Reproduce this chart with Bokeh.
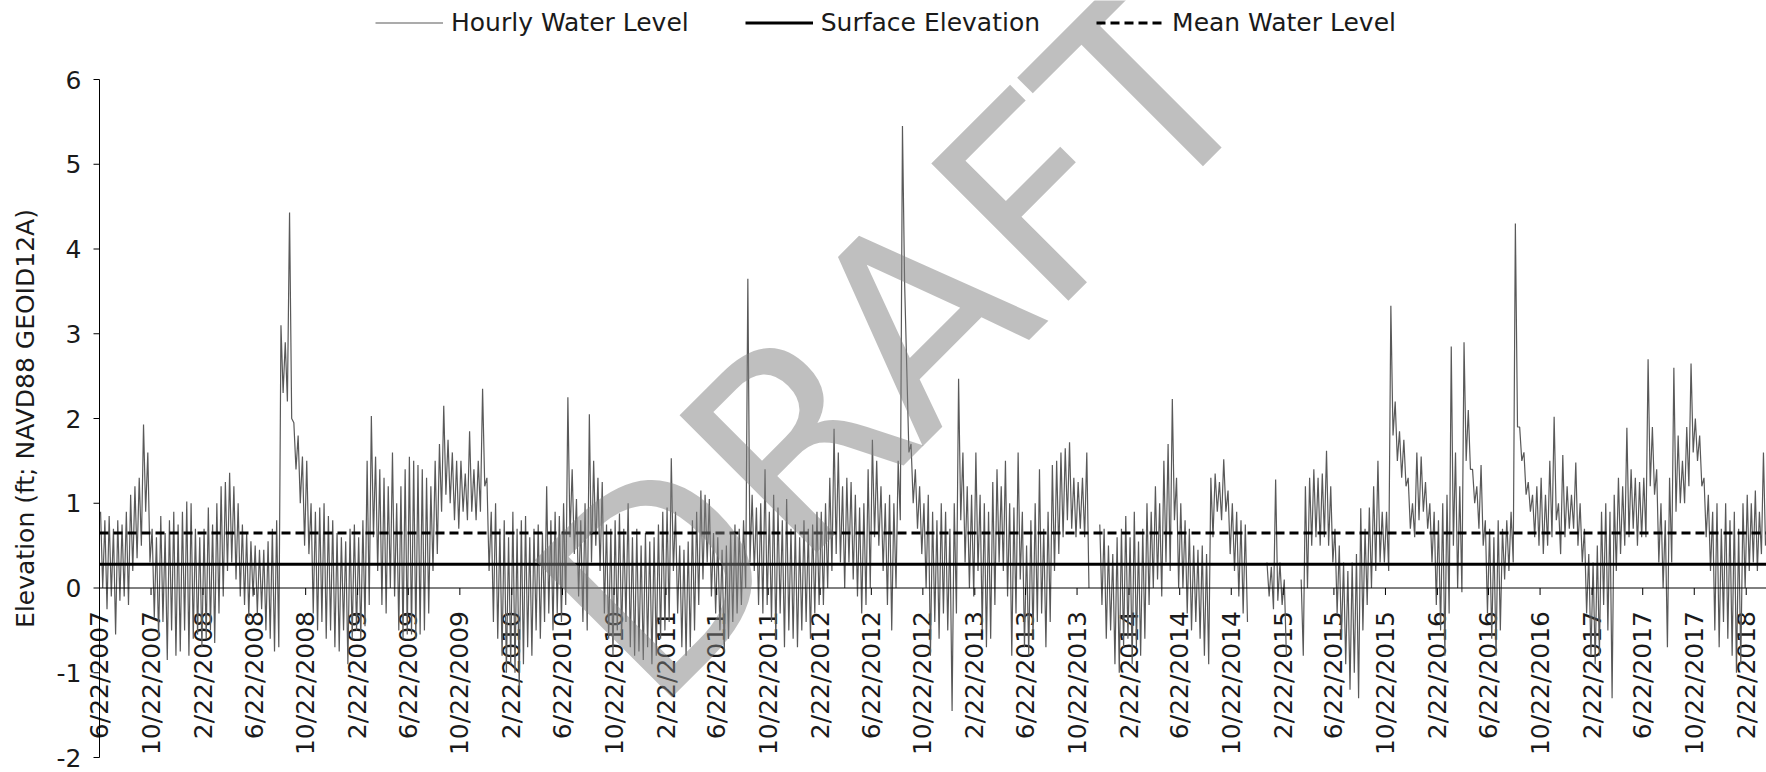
import math
from datetime import datetime, timedelta

from bokeh.core.properties import value
from bokeh.embed import file_html
from bokeh.models import Legend, LegendItem, Range1d
from bokeh.plotting import figure
from bokeh.resources import INLINE

nan = float("nan")

# Time axis: major ticks every four months, record runs to the right edge
tick_dates = [
    "2007-06-22", "2007-10-22", "2008-02-22", "2008-06-22", "2008-10-22",
    "2009-02-22", "2009-06-22", "2009-10-22", "2010-02-22", "2010-06-22",
    "2010-10-22", "2011-02-22", "2011-06-22", "2011-10-22", "2012-02-22",
    "2012-06-22", "2012-10-22", "2013-02-22", "2013-06-22", "2013-10-22",
    "2014-02-22", "2014-06-22", "2014-10-22", "2015-02-22", "2015-06-22",
    "2015-10-22", "2016-02-22", "2016-06-22", "2016-10-22", "2017-02-22",
    "2017-06-22", "2017-10-22", "2018-02-22",
]
record_end = "2018-04-11"
blocks_per_period = [12] * 32 + [5]

# Hourly water level (ft), summarised as the high and low of each ~10-day block.
# One row per four-month period; nan marks gaps in the record.
level_high = [
    0.9, 0.8, 0.85, 0.7, 0.8, 0.75, 0.9, 1.1, 1.2, 1.3, 1.93, 1.6,
    0.7, 0.6, 0.85, 0.65, 0.8, 0.9, 0.75, 0.9, 1.02, 1.0, 0.7, 0.6,
    0.7, 0.95, 0.75, 1.0, 1.2, 1.25, 1.36, 1.2, 1.0, 0.75, 0.65, 0.55,
    0.5, 0.45, 0.45, 0.55, 0.7, 0.8, 3.1, 2.9, 4.43, 1.95, 1.8, 1.55,
    1.5, 1.0, 0.9, 0.95, 1.0, 0.85, 0.8, 0.65, 0.6, 0.55, 0.7, 0.75,
    0.6, 0.8, 1.5, 2.03, 1.55, 1.4, 1.3, 1.2, 1.6, 1.0, 1.2, 1.4,
    1.55, 1.5, 1.45, 1.4, 1.3, 1.2, 1.5, 1.7, 2.15, 1.75, 1.6, 1.5,
    1.5, 1.35, 1.85, 1.4, 1.5, 2.35, 1.3, 0.9, 1.0, 0.7, 0.8, 0.6,
    0.9, 0.7, 0.8, 0.85, 0.6, 0.7, 0.75, 0.65, 1.2, 0.8, 0.9, 0.85,
    1.0, 2.25, 1.4, 1.05, 0.8, 1.0, 2.05, 1.5, 1.3, 1.25, 0.75, 0.7,
    0.8, 0.88, 0.7, 1.0, 0.6, 0.7, 0.5, 0.65, 0.55, 0.6, 0.75, 0.9,
    0.95, 1.53, 0.9, 0.5, 0.45, 0.55, 0.8, 0.9, 1.15, 1.1, 1.05, 0.65,
    0.6, 0.45, 0.5, 0.65, 0.75, 0.7, 0.8, 3.65, 1.1, 0.95, 1.0, 1.4,
    0.9, 1.1, 0.95, 0.8, 1.05, 0.7, 0.75, 0.6, 0.8, 0.7, 0.75, 0.9,
    0.9, 1.0, 1.3, 1.88, 1.6, 1.2, 1.3, 1.25, 1.1, 0.95, 1.0, 1.4,
    1.75, 1.5, 1.2, 1.0, 1.1, 1.0, 1.5, 5.45, 2.6, 1.7, 1.4, 1.2,
    1.0, 1.1, 0.9, 0.8, 1.0, 0.9, 0.7, 1.0, 2.47, 1.6, 1.2, 1.1,
    1.6, 1.1, 1.0, 0.9, 1.25, 1.4, 1.2, 1.5, 1.0, 0.95, 1.6, 0.9,
    0.5, 0.8, 1.0, 1.4, 0.7, 0.9, 1.45, 1.5, 1.6, 1.65, 1.72, 1.3,
    1.25, 1.3, 1.6, nan, nan, 0.75, 0.7, 0.5, 0.4, 0.6, 0.7, 0.85,
    0.6, 0.9, 0.55, 0.7, 1.0, 0.9, 1.2, 1.0, 1.5, 1.7, 2.23, 1.3,
    1.0, 0.8, 0.7, 0.5, 0.45, 0.5, 0.4, 1.3, 1.35, 1.25, 1.52, 1.15,
    1.0, 0.9, 0.8, 0.75, nan, nan, nan, nan, 0.3, 0.25, 1.28, 0.3,
    0.1, nan, nan, nan, 0.1, 1.2, 1.3, 1.4, 1.3, 1.35, 1.62, 1.2,
    0.7, 0.5, 0.3, 0.2, 0.3, 0.4, 0.94, 0.7, 0.95, 1.2, 1.5, 0.9,
    0.9, 3.33, 2.2, 1.85, 1.75, 1.3, 1.0, 1.6, 1.55, 1.25, 1.0, 0.9,
    0.8, 1.0, 1.1, 2.85, 1.6, 1.2, 2.9, 2.1, 1.4, 1.2, 1.45, 0.8,
    0.7, 0.6, 0.8, 0.7, 0.8, 0.9, 4.3, 1.9, 1.6, 1.25, 1.1, 1.2,
    1.3, 1.1, 1.5, 2.02, 1.0, 1.57, 1.2, 1.1, 1.48, 1.0, 0.7, 0.4,
    0.3, 0.5, 0.9, 1.0, 0.9, 1.1, 1.3, 1.2, 1.89, 1.4, 1.3, 1.25,
    1.3, 2.7, 1.9, 1.4, 1.0, 0.8, 1.3, 2.6, 1.8, 1.5, 1.9, 2.65,
    2.0, 1.8, 1.3, 1.1, 0.9, 1.0, 0.7, 1.0, 0.8, 0.9, 0.7, 1.0,
    1.1, 1.0, 1.15, 0.9, 1.6,
]
level_low = [
    0.0, -0.25, -0.1, -0.55, -0.15, -0.1, -0.2, 0.2, 0.35, 0.5, 0.9, 0.3,
    -0.35, -0.6, -0.4, -0.85, -0.5, -0.8, -0.75, -0.5, -0.8, -0.6, -0.55, -0.7,
    -0.6, -0.5, -0.65, -0.3, -0.1, 0.2, 0.3, 0.1, -0.1, -0.2, -0.35, -0.1,
    -0.3, -0.25, -0.5, -0.6, -0.75, -0.7, 2.3, 2.2, 2.0, 1.4, 1.0, 0.5,
    0.4, -0.3, -0.5, -0.4, -0.6, -0.5, -0.7, -0.75, -0.5, -0.9, -0.6, -0.5,
    -0.6, -0.45, -0.2, 0.6, 0.2, -0.2, -0.3, 0.0, -0.1, -0.5, -0.6, -0.55,
    -0.55, -0.6, -0.55, -0.5, -0.3, 0.2, 0.4, 0.9, 1.1, 1.0, 0.8, 0.7,
    0.9, 0.8, 0.9, 0.8, 0.9, 1.2, 0.2, -0.4, -0.6, -0.8, -1.0, -0.9,
    -1.0, -1.2, -0.9, -0.7, -0.8, -0.5, -0.6, -0.4, -0.3, -0.5, -0.3, -0.4,
    -0.2, 0.6, 0.4, -0.1, -0.4, -0.5, 0.3, 0.5, 0.2, -0.3, -0.6, -0.8,
    -0.5, -0.6, -0.4, -0.7, -0.8, -0.75, -0.85, -0.7, -0.9, -0.8, -0.6, -0.5,
    -0.4, 0.2, -0.3, -0.7, -0.8, -0.7, -0.5, -0.2, 0.1, 0.3, -0.1, -0.3,
    -0.5, -0.75, -0.6, -0.4, -0.3, -0.2, 0.0, 0.3, 0.2, -0.2, -0.3, -0.2,
    -0.4, -0.6, -0.3, -0.7, -0.5, -0.6, -0.7, -0.5, -0.4, -0.6, -0.3, -0.2,
    -0.2, 0.0, 0.2, 0.4, 0.3, 0.0, 0.3, 0.1, -0.1, -0.3, -0.2, 0.0,
    0.6, 0.5, 0.2, -0.2, -0.5, 0.0, 0.8, 3.6, 1.6, 1.0, 0.7, 0.4,
    0.0, -0.8, -0.4, -0.6, -0.3, -0.5, -1.45, -0.3, 0.8, 0.3, 0.0, -0.1,
    0.2, -0.5, -0.7, -0.6, -0.2, 0.3, 0.2, -0.1, -0.8, -0.3, 0.1, -0.7,
    -0.8, -0.6, -0.4, -0.3, -0.7, -0.4, 0.2, 0.4, 0.6, 0.8, 0.7, 0.6,
    0.7, 0.6, 0.0, nan, nan, -0.2, -0.6, -0.5, -0.9, -1.0, -0.7, -0.6,
    -0.9, -0.7, -0.8, -0.6, -0.2, 0.0, 0.1, -0.1, 0.3, 0.2, 0.8, 0.0,
    0.0, -0.3, -0.5, -0.4, -0.6, -0.8, -0.9, 0.6, 0.9, 0.8, 0.9, 0.4,
    0.2, -0.1, -0.3, -0.4, nan, nan, nan, nan, -0.1, -0.25, -0.15, -0.2,
    -0.8, nan, nan, nan, -0.8, 0.0, 0.5, 0.6, 0.5, 0.6, 0.5, 0.3,
    -0.3, -0.6, -0.9, -1.2, -1.0, -1.3, -0.5, -0.2, 0.0, 0.2, 0.3, 0.3,
    0.2, 1.8, 1.5, 1.3, 1.2, 0.7, 0.6, 0.8, 0.9, 0.7, 0.3, -0.2,
    -0.5, -0.8, -0.3, 0.5, 0.0, -0.05, 1.5, 1.4, 1.0, 0.7, 0.5, -0.3,
    -0.6, -0.8, -0.5, 0.1, 0.2, 0.3, 1.9, 1.5, 1.1, 0.9, 0.6, 0.5,
    0.4, 0.5, 0.6, 0.8, 0.4, 0.6, 0.7, 0.7, 0.5, 0.3, -0.3, -0.8,
    -0.9, -0.8, -0.2, -0.5, -1.3, 0.2, 0.4, 0.5, 0.6, 0.7, 0.5, 0.6,
    0.6, 1.2, 1.1, 0.3, 0.0, -0.7, 0.3, 0.9, 1.0, 1.0, 1.2, 1.6,
    1.5, 1.2, 0.6, 0.2, -0.5, -0.7, -0.4, -0.6, -0.8, -1.0, -0.9, 0.0,
    0.2, 0.3, 0.2, 0.4, 0.5,
]

surface_elevation = 0.28   # ft
mean_water_level = 0.65    # ft

y_ticks = [-2, -1, 0, 1, 2, 3, 4, 5, 6]
y_title = "Elevation (ft; NAVD88 GEOID12A)"

# ---- layout constants (pixels) ----
W, H = 1766, 772
axis_x_px = 99          # value axis position from the left edge
axis_top_px = 79        # where the top tick sits
axis_bottom_px = 757    # where the bottom tick sits
FONT = "DejaVu Sans"
FONT_SIZE = "25px"
TEXT_COLOR = "#1a1a1a"

# ---- build the hourly trace from the block highs/lows ----
period_bounds = [datetime.fromisoformat(d) for d in tick_dates] + [datetime.fromisoformat(record_end)]
times, levels = [], []
k = 0
for i, n in enumerate(blocks_per_period):
    t0, t1 = period_bounds[i], period_bounds[i + 1]
    step = (t1 - t0) / n
    for j in range(n):
        times += [t0 + step * (j + 0.25), t0 + step * (j + 0.75)]
        levels += [level_high[k], level_low[k]]
        k += 1

x_start = period_bounds[0]
x_end = period_bounds[-1]

# scales: the drawing area spans the whole canvas, axes are drawn by hand
span_days = (x_end - x_start).total_seconds() / 86400
px_per_day = (W - axis_x_px) / span_days
px_per_ft = (axis_bottom_px - axis_top_px) / (y_ticks[-1] - y_ticks[0])


def px_days(px):
    return timedelta(days=px / px_per_day)


def px_ft(px):
    return px / px_per_ft


p = figure(
    width=W, height=H,
    x_axis_type="datetime",
    x_range=Range1d(x_start - px_days(axis_x_px), x_end),
    y_range=Range1d(y_ticks[0] - px_ft(H - axis_bottom_px), y_ticks[-1] + px_ft(axis_top_px)),
    output_backend="svg",
    toolbar_location=None,
    min_border=0,
)
p.outline_line_color = None
p.xgrid.visible = False
p.ygrid.visible = False
p.xaxis.visible = False
p.yaxis.visible = False
p.background_fill_color = "white"
p.border_fill_color = "white"

text_style = dict(text_font=value(FONT), text_font_size=FONT_SIZE, text_color=TEXT_COLOR)

# ---- date labels hanging below the zero line (under the data) ----
tick_dt = [datetime.fromisoformat(d) for d in tick_dates]
tick_text = [f"{d.month}/{d.day}/{d.year}" for d in tick_dt]
p.text(x=tick_dt, y=[-px_ft(23)] * len(tick_dt), text=tick_text,
       angle=math.pi / 2, text_align="right", text_baseline="middle", **text_style)

# ---- value axis ----
n_y = len(y_ticks)
p.segment(x0=[x_start], y0=[y_ticks[0]], x1=[x_start], y1=[y_ticks[-1]], line_color="black", line_width=1)
p.segment(x0=[x_start - px_days(6)] * n_y, y0=y_ticks, x1=[x_start] * n_y, y1=y_ticks,
          line_color="black", line_width=1)
p.text(x=[x_start - px_days(18)] * n_y, y=y_ticks, text=[str(t) for t in y_ticks],
       text_align="right", text_baseline="middle", **text_style)
p.text(x=[x_start - px_days(axis_x_px - 25)], y=[(y_ticks[0] + y_ticks[-1]) / 2], text=[y_title],
       angle=math.pi / 2, text_align="center", text_baseline="middle", **text_style)

# ---- series ----
r_hourly = p.line(times, levels, line_color="#595959", line_width=1.2)
r_surface = p.line([x_start, x_end], [surface_elevation] * 2, line_color="black", line_width=3)
r_mean = p.line([x_start, x_end], [mean_water_level] * 2, line_color="black", line_width=3,
                line_dash="9 5")

# ---- time axis: zero line and tick marks ----
n_x = len(tick_dt)
p.segment(x0=[x_start], y0=[0], x1=[x_end], y1=[0], line_color="black", line_width=1)
p.segment(x0=tick_dt, y0=[0] * n_x, x1=tick_dt, y1=[-px_ft(7)] * n_x, line_color="black", line_width=1)

# ---- watermark ----
wm_sx, wm_sy = 896, 342
p.text(
    x=[x_start + px_days(wm_sx - axis_x_px)], y=[y_ticks[-1] - px_ft(wm_sy - axis_top_px)],
    text=["DRAFT"], angle=math.radians(45), text_align="center", text_baseline="middle",
    text_font=value(FONT), text_font_size="266px", text_color="#808080", text_alpha=0.5,
)

# ---- legend across the top ----
legend_left_px, legend_mid_px = 375, 24
legend = Legend(
    items=[
        LegendItem(label="Hourly Water Level", renderers=[r_hourly]),
        LegendItem(label="Surface Elevation", renderers=[r_surface]),
        LegendItem(label="Mean Water Level", renderers=[r_mean]),
    ],
    orientation="horizontal",
    location=(legend_left_px, H - legend_mid_px - 12.5),
    label_text_font=FONT, label_text_font_size=FONT_SIZE, label_text_color=TEXT_COLOR,
    glyph_width=68, glyph_height=25, label_height=25,
    label_standoff=8, spacing=56, padding=0, margin=0,
    border_line_alpha=0, background_fill_alpha=0,
)
p.add_layout(legend)

open("out.html", "w").write(file_html(p, INLINE))
